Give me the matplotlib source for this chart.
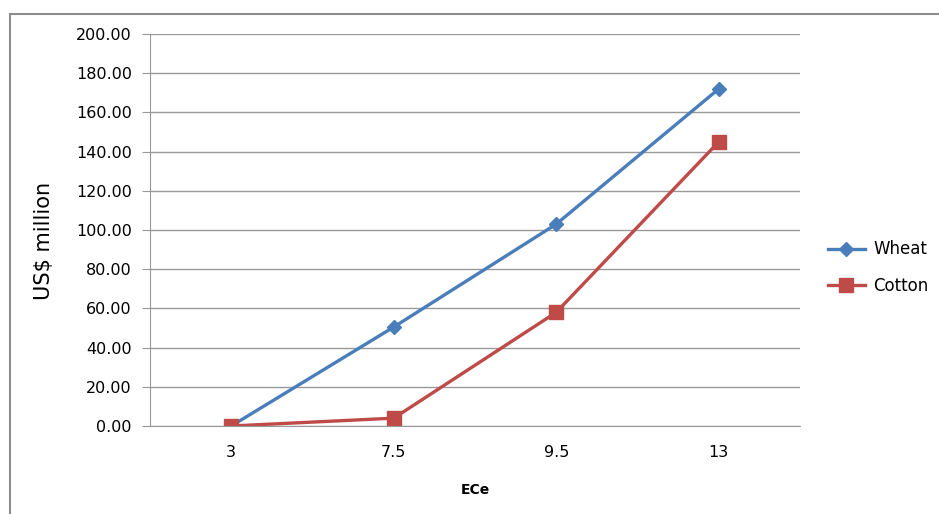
import matplotlib
matplotlib.use("Agg")
import matplotlib.pyplot as plt
from matplotlib.patches import Rectangle

# data
ece = ["3", "7.5", "9.5", "13"]
wheat = [0.0, 50.5, 103.0, 172.0]
cotton = [0.0, 4.0, 58.0, 145.0]
yticks = [0, 20, 40, 60, 80, 100, 120, 140, 160, 180, 200]

fig = plt.figure(figsize=(9.39, 5.14), dpi=100)
fig.patches.append(Rectangle((10 / 939, -0.1), 1.1, 1 - 14 / 514 + 0.1,
                             transform=fig.transFigure, fill=False,
                             edgecolor="#8c8c8c", linewidth=1.5))

ax = fig.add_axes([150 / 939, 1 - 426 / 514, 650 / 939, 392 / 514])
x = range(len(ece))
ax.plot(x, wheat, color="#4A7EBB", lw=2.4, marker="D", ms=7, label="Wheat")
ax.plot(x, cotton, color="#BE4B48", lw=2.4, marker="s", ms=10, label="Cotton")

ax.set_xlim(-0.5, len(ece) - 0.5)
ax.set_ylim(0, 200)
ax.set_yticks(yticks)
ax.set_yticklabels(["%.2f" % v for v in yticks], fontsize=11.5)
ax.set_xticks(list(x))
ax.set_xticklabels(ece, fontsize=11.5)
ax.tick_params(axis="x", length=0, pad=14)
ax.tick_params(axis="y", length=6, color="#999999", pad=7)
ax.grid(axis="y", color="#999999", lw=1)
ax.set_axisbelow(True)
for s in ["top", "right"]:
    ax.spines[s].set_visible(False)
ax.spines["left"].set_color("#999999")
ax.spines["bottom"].set_color("#999999")

ax.set_xlabel("ECe", fontsize=10, fontweight="bold", labelpad=16)
ax.set_ylabel("US$ million", fontsize=15)
ax.yaxis.set_label_coords(-0.148, 0.472)

ax.legend(loc="center left", bbox_to_anchor=(1.02, 0.404), frameon=False,
          fontsize=12, handlelength=2.2, labelspacing=1.1, handletextpad=0.5)

fig.savefig("out.png", dpi=100)
